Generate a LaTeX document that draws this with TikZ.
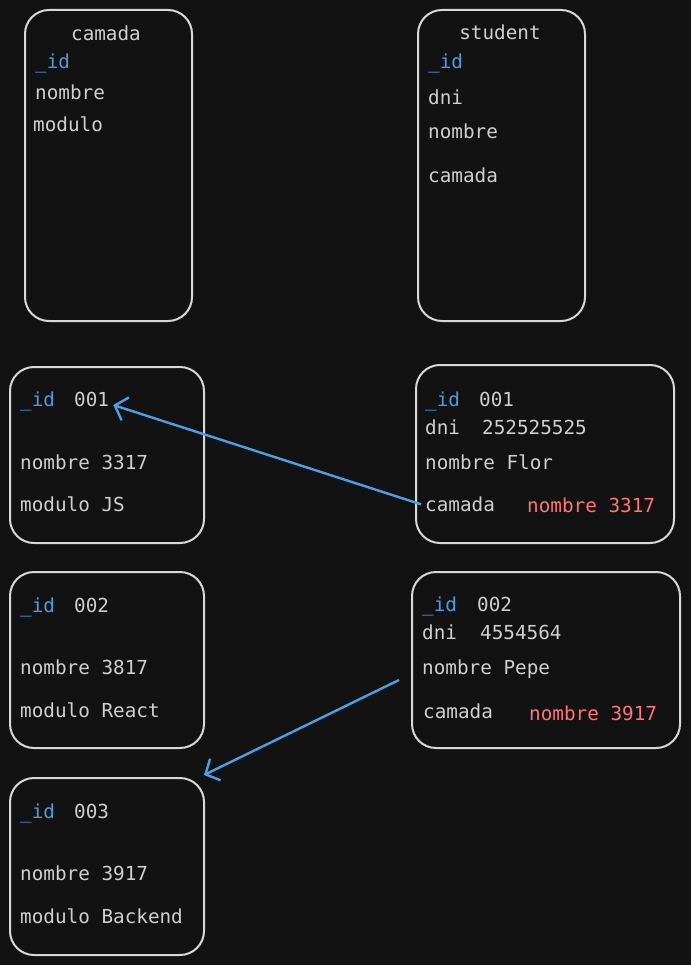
\documentclass[tikz,border=0pt]{standalone}
\usepackage{fontspec}
\setmonofont{DejaVu Sans Mono}
\usetikzlibrary{arrows.meta}
\definecolor{Ink}{HTML}{121212}
\definecolor{Edge}{HTML}{D8D8D8}
\definecolor{Txt}{HTML}{CFCFCF}
\definecolor{Key}{HTML}{4A9CE0}
\definecolor{Ref}{HTML}{FF7474}
\definecolor{Link}{HTML}{4C9FE6}

\begin{document}
\begin{tikzpicture}[x=1pt,y=-1pt,
    tbl/.style={draw=Edge,line width=2pt,rounded corners=24pt,inner sep=0pt},
    fld/.style={anchor=base west,inner sep=0pt,yshift=-1.5pt,text=Txt,font=\ttfamily\fontsize{19.3}{23}\selectfont},
    key/.style={fld,text=Key},
    ref/.style={fld,text=Ref},
    link/.style={draw=Link,line width=2.4pt,-{Straight Barb[length=11pt,width=24pt]}}]
  \fill[Ink] (0,0) rectangle (691,965);
  \useasboundingbox (0,0) rectangle (691,965);

  % schemas
  \node[tbl,minimum width=167pt,minimum height=311pt] (camada) at (108.5,165.5) {};
  \node[fld,anchor=base] (camadaT) at (106,39) {camada};
  \node[key] (camadaId) at (35,67) {\_id};
  \node[fld] (camadaNom) at (35,98) {nombre};
  \node[fld] (camadaMod) at (33,130) {modulo};

  \node[tbl,minimum width=167pt,minimum height=311pt] (student) at (501.5,165.5) {};
  \node[fld,anchor=base] (studentT) at (500,38) {student};
  \node[key] (studentId) at (428,67) {\_id};
  \node[fld] (studentDni) at (428,103) {dni};
  \node[fld] (studentNom) at (428,137) {nombre};
  \node[fld] (studentCam) at (428,181) {camada};

  % camada documents
  \node[tbl,minimum width=194pt,minimum height=176pt] (c1) at (107,455) {};
  \node[key] (c1Id) at (20,405) {\_id};
  \node[fld] (c1Val) at (74,405) {001};
  \node[fld] (c1Nom) at (20,468) {nombre 3317};
  \node[fld] (c1Mod) at (20,510) {modulo JS};

  \node[tbl,minimum width=194pt,minimum height=176pt] (c2) at (107,660) {};
  \node[key] (c2Id) at (20,611) {\_id};
  \node[fld] (c2Val) at (74,611) {002};
  \node[fld] (c2Nom) at (20,673) {nombre 3817};
  \node[fld] (c2Mod) at (20,716) {modulo React};

  \node[tbl,minimum width=194pt,minimum height=177pt] (c3) at (107,866.5) {};
  \node[key] (c3Id) at (20,817) {\_id};
  \node[fld] (c3Val) at (74,817) {003};
  \node[fld] (c3Nom) at (20,879) {nombre 3917};
  \node[fld] (c3Mod) at (20,922) {modulo Backend};

  % student documents
  \node[tbl,minimum width=258pt,minimum height=178pt] (s1) at (545,454) {};
  \node[key] (s1Id) at (425,405) {\_id};
  \node[fld] (s1Val) at (479,405) {001};
  \node[fld] (s1Dni) at (425,433) {dni};
  \node[fld] (s1DniV) at (482,433) {252525525};
  \node[fld] (s1Nom) at (425,468) {nombre Flor};
  \node[fld] (s1Cam) at (425,510) {camada};
  \node[ref] (s1Ref) at (527,511) {nombre 3317};

  \node[tbl,minimum width=268pt,minimum height=176pt] (s2) at (546,660) {};
  \node[key] (s2Id) at (422,610) {\_id};
  \node[fld] (s2Val) at (477,610) {002};
  \node[fld] (s2Dni) at (422,638) {dni};
  \node[fld] (s2DniV) at (480,638) {4554564};
  \node[fld] (s2Nom) at (422,673) {nombre Pepe};
  \node[fld] (s2Cam) at (423,717) {camada};
  \node[ref] (s2Ref) at (529,719) {nombre 3917};

  % references
  \coordinate (s2From) at (399,680);
  \draw[link] ([xshift=-4pt]s1Cam.west) -- ([xshift=4pt,yshift=2pt]c1Val.south east);
  \draw[link] (s2From) -- ([shift={(-1pt,2pt)}]c3.north east);
\end{tikzpicture}
\end{document}
